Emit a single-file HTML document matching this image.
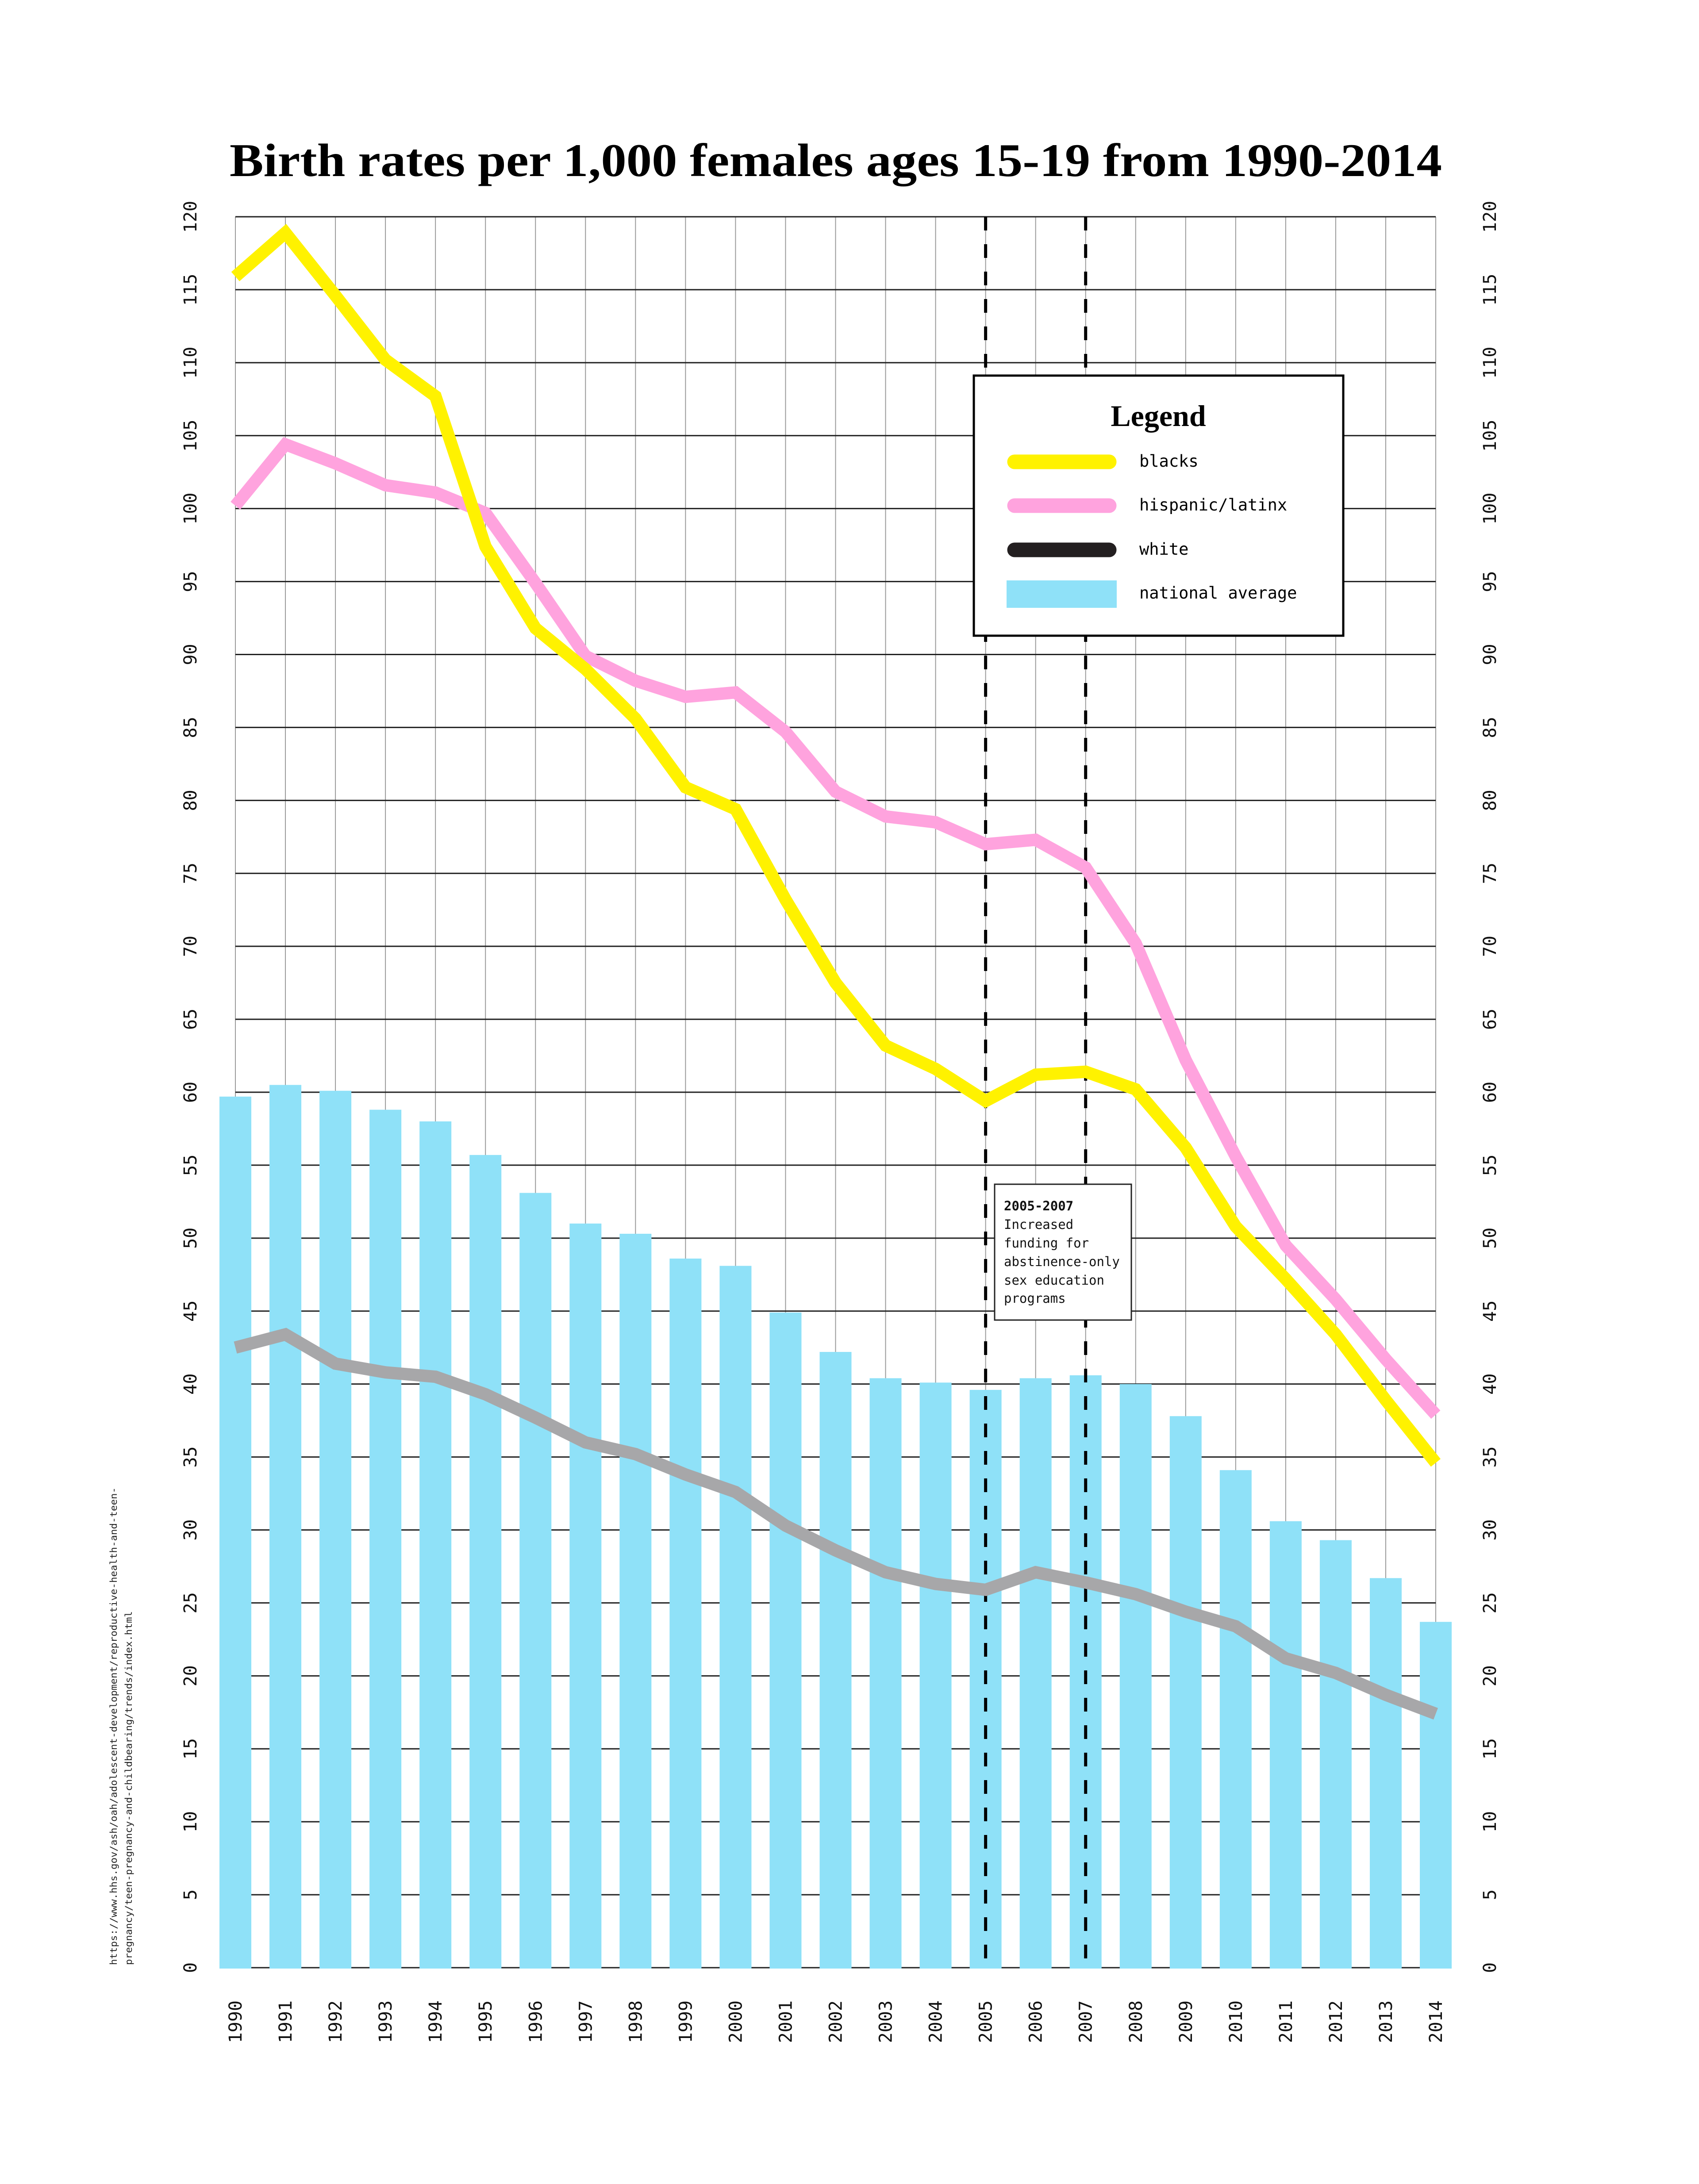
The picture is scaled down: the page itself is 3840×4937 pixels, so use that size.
<!DOCTYPE html>
<html><head><meta charset="utf-8"><style>
html,body{margin:0;padding:0;background:#fff;}
svg{display:block;}
.mono{font-family:"DejaVu Sans Mono","Liberation Mono",monospace;}
.serif{font-family:"Liberation Serif",serif;font-weight:bold;}
</style></head><body>
<svg id="chart" width="3840" height="4937" viewBox="0 0 3840 4937" xmlns="http://www.w3.org/2000/svg">
<rect x="0" y="0" width="3840" height="4937" fill="#fff"/>
<text class="serif" x="519" y="398" font-size="106" textLength="2740" lengthAdjust="spacingAndGlyphs">Birth rates per 1,000 females ages 15-19 from 1990-2014</text>
<g id="grid"></g>
<g id="bars"></g>
<g id="dashes"></g>
<g id="lines"></g>
<g id="axes"></g>
<g class="mono" font-size="21" fill="#222">
<text transform="translate(264,4442) rotate(-90)" textLength="1080" lengthAdjust="spacingAndGlyphs">https://www.hhs.gov/ash/oah/adolescent-development/reproductive-health-and-teen-</text>
<text transform="translate(298,4442) rotate(-90)" textLength="800" lengthAdjust="spacingAndGlyphs">pregnancy/teen-pregnancy-and-childbearing/trends/index.html</text>
</g>
<g>
<rect x="2201" y="849" width="835" height="588" fill="#fff" stroke="#000" stroke-width="5"/>
<text class="serif" x="2618" y="963" font-size="68" text-anchor="middle">Legend</text>
<line x1="2293" y1="1044" x2="2507" y2="1044" stroke="#FFF200" stroke-width="33" stroke-linecap="round"/>
<text class="mono" x="2575" y="1055" font-size="37">blacks</text>
<line x1="2293" y1="1143" x2="2507" y2="1143" stroke="#FFA3DE" stroke-width="33" stroke-linecap="round"/>
<text class="mono" x="2575" y="1154" font-size="37">hispanic/latinx</text>
<line x1="2293" y1="1243" x2="2507" y2="1243" stroke="#231F20" stroke-width="33" stroke-linecap="round"/>
<text class="mono" x="2575" y="1254" font-size="37">white</text>
<rect x="2275" y="1312" width="249" height="62" fill="#8FE1F8"/>
<text class="mono" x="2575" y="1353" font-size="37">national average</text>
</g>
<g>
<rect x="2248" y="2677" width="309" height="307" fill="#fff" stroke="#222" stroke-width="3"/>
<g class="mono" font-size="29" fill="#111">
<text x="2269" y="2736" font-weight="bold">2005-2007</text>
<text x="2269" y="2778">Increased</text>
<text x="2269" y="2820">funding for</text>
<text x="2269" y="2862">abstinence-only</text>
<text x="2269" y="2904">sex education</text>
<text x="2269" y="2945">programs</text>
</g>
</g>
</svg>
<script>
const years = [1990,1991,1992,1993,1994,1995,1996,1997,1998,1999,2000,2001,2002,2003,2004,2005,2006,2007,2008,2009,2010,2011,2012,2013,2014];
const nationalAvg = [59.7,60.5,60.1,58.8,58.0,55.7,53.1,51.0,50.3,48.6,48.1,44.9,42.2,40.4,40.1,39.6,40.4,40.6,40.0,37.8,34.1,30.6,29.3,26.7,23.7];
const blacks = [115.9,118.9,114.6,110.2,107.7,97.4,91.8,89.0,85.6,80.9,79.4,73.2,67.5,63.2,61.6,59.4,61.2,61.4,60.2,56.2,50.8,47.2,43.4,38.9,34.6];
const hispanic = [100.2,104.4,103.1,101.6,101.1,99.7,94.9,89.9,88.2,87.1,87.4,84.7,80.6,78.9,78.5,77.0,77.3,75.4,70.2,62.2,55.6,49.5,45.8,41.7,37.9];
const white = [42.5,43.4,41.4,40.8,40.5,39.3,37.7,36.0,35.2,33.8,32.6,30.3,28.6,27.1,26.3,25.9,27.1,26.4,25.6,24.4,23.4,21.2,20.2,18.7,17.4];
const yTicks = [0,5,10,15,20,25,30,35,40,45,50,55,60,65,70,75,80,85,90,95,100,105,110,115,120];
const markedYears = [2005,2007];

const NS = "http://www.w3.org/2000/svg";
const X0 = 532, X1 = 3245, Y0 = 4448, Y1 = 490;
const yMax = 120;
function xPos(i){ return X0 + (X1 - X0) * i / (years.length - 1); }
function yPos(v){ return Y0 - (Y0 - Y1) * v / yMax; }
function mk(tag, attrs, parent){ const e = document.createElementNS(NS, tag); for (const k in attrs) e.setAttribute(k, attrs[k]); parent.appendChild(e); return e; }

const grid = document.getElementById('grid');
years.forEach((y, i) => {
  const l = mk('line', {x1: xPos(i), x2: xPos(i), y1: Y1, y2: Y0, stroke: '#9a9a9a', 'stroke-width': 2}, grid);
  
  
});
yTicks.forEach(v => {
  const l = mk('line', {x1: X0, x2: X1, y1: yPos(v), y2: yPos(v), stroke: '#222', 'stroke-width': 3}, grid);
  
  
});

const bars = document.getElementById('bars');
const bw = 72;
nationalAvg.forEach((v, i) => {
  const r = mk('rect', {x: xPos(i) - bw/2, y: yPos(v), width: bw, height: Y0 - yPos(v) + 2, fill: '#8FE1F8'}, bars);
  
  
});

const dashes = document.getElementById('dashes');
markedYears.forEach(yr => {
  const i = years.indexOf(yr);
  const l = mk('line', {x1: xPos(i), x2: xPos(i), y1: Y1, y2: Y0, stroke: '#000', 'stroke-width': 7, 'stroke-dasharray': '31 31'}, dashes);
  
  
});

const lines = document.getElementById('lines');
function drawLine(data, color, name){
  const pts = data.map((v, i) => xPos(i) + ',' + yPos(v)).join(' ');
  const p = mk('polyline', {points: pts, fill: 'none', stroke: color, 'stroke-width': 28, 'stroke-linejoin': 'miter', 'stroke-miterlimit': 4, 'stroke-linecap': 'butt'}, lines);
  
  
}
drawLine(white, '#A7A7A9', 'line-white');
drawLine(hispanic, '#FFA3DE', 'line-hispanic');
drawLine(blacks, '#FFF200', 'line-blacks');

const axes = document.getElementById('axes');
yTicks.forEach(v => {
  [430, 3367].forEach((xx, k) => {
    const t = mk('text', {transform: 'translate(' + (xx + 14) + ',' + yPos(v) + ') rotate(-90)', 'text-anchor': 'middle', 'font-size': 40, fill: '#111', class: 'mono'}, axes);
    t.textContent = String(v);
    
    
  });
});
years.forEach((y, i) => {
  const t = mk('text', {transform: 'translate(' + (xPos(i) + 14) + ',4522) rotate(-90)', 'text-anchor': 'end', 'font-size': 40, fill: '#111', class: 'mono'}, axes);
  t.textContent = String(y);
  
  
});
</script>
</body></html>
